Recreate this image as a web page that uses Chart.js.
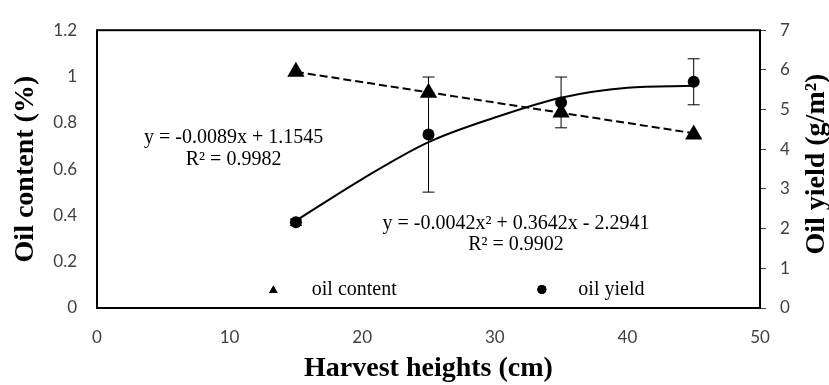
<!DOCTYPE html>
<html lang="en">
<head>
    <meta charset="UTF-8">
    <title>Oil content and oil yield</title>
    <style>
body {
    margin: 0;
    padding: 0;
    background-color: #fff;
}

#wrap {
    width: 829px;
    height: 385px;
}
    </style>
    <script src="https://cdn.jsdelivr.net/npm/chart.js"></script>
</head>
<body>
    <div id="wrap">
        <canvas id="oilChart" width="829" height="385"></canvas>
    </div>

    <script>
// Harvest heights (cm) and measured values
const heights = [15, 25, 35, 45];
const oilContent = [1.02, 0.93, 0.845, 0.75];
const oilYield = [2.16, 4.37, 5.18, 5.70];
const oilYieldErr = [0.08, 1.45, 0.64, 0.58];

// trendlines
const contentFitX = [15, 45];
const contentFit = [1.02, 0.755];
const yieldFitX = [15, 20, 25, 30, 35, 40, 45];
const yieldFit = [2.2, 3.25, 4.18, 4.8, 5.3, 5.55, 5.6];

// tick labels
const xTicks = ['0', '10', '20', '30', '40', '50'];
const leftTicks = ['0', '0.2', '0.4', '0.6', '0.8', '1', '1.2'];
const rightTicks = ['0', '1', '2', '3', '4', '5', '6', '7'];

// equation labels
const eqLinear = ['y = -0.0089x + 1.1545', 'R\u00b2 = 0.9982'];
const eqPoly = ['y = -0.0042x\u00b2 + 0.3642x - 2.2941', 'R\u00b2 = 0.9902'];

const serif = '"Liberation Serif", "Times New Roman", serif';
const tickFont = { family: 'Lato, "Noto Sans", sans-serif', size: 17 };
const titleFont = { family: serif, size: 28, weight: 'bold', lineHeight: 1 };

function toPoints(xs, ys) {
    return xs.map((x, i) => ({ x: x, y: ys[i] }));
}

// frame, error bars, equations, legend, right title
const extras = {
    id: 'extras',
    afterDatasetsDraw(chart) {
        const ctx = chart.ctx;
        const a = chart.chartArea;
        const xs = chart.scales.x;
        const yl = chart.scales.y;
        const yr = chart.scales.y1;

        ctx.save();
        // plot frame
        ctx.strokeStyle = '#000';
        ctx.lineWidth = 2;
        ctx.strokeRect(a.left, a.top, a.right - a.left, a.bottom - a.top);

        // error bars on oil yield
        ctx.lineWidth = 1;
        heights.forEach((h, i) => {
            const px = xs.getPixelForValue(h);
            const t = yr.getPixelForValue(oilYield[i] + oilYieldErr[i]);
            const b = yr.getPixelForValue(oilYield[i] - oilYieldErr[i]);
            ctx.beginPath();
            ctx.moveTo(px, t); ctx.lineTo(px, b);
            ctx.moveTo(px - 6, t); ctx.lineTo(px + 6, t);
            ctx.moveTo(px - 6, b); ctx.lineTo(px + 6, b);
            ctx.stroke();
        });

        // equations
        ctx.fillStyle = '#000';
        ctx.font = '20px ' + serif;
        ctx.textAlign = 'center';
        ctx.textBaseline = 'middle';
        ctx.fillText(eqLinear[0], xs.getPixelForValue(10.3), yl.getPixelForValue(0.737));
        ctx.fillText(eqLinear[1], xs.getPixelForValue(10.3), yl.getPixelForValue(0.64));
        ctx.fillText(eqPoly[0], xs.getPixelForValue(31.6), yl.getPixelForValue(0.362));
        ctx.fillText(eqPoly[1], xs.getPixelForValue(31.6), yl.getPixelForValue(0.274));

        // legend inside the plot
        const ly = yl.getPixelForValue(0.08);
        const ds = chart.data.datasets;
        Chart.helpers.drawPoint(ctx, { pointStyle: 'triangle', radius: 5, borderWidth: 0 },
            xs.getPixelForValue(13.3), ly + 1);
        ctx.fill();
        Chart.helpers.drawPoint(ctx, { pointStyle: 'circle', radius: 4.5, borderWidth: 0 },
            xs.getPixelForValue(33.55), ly);
        ctx.fill();
        ctx.textAlign = 'left';
        ctx.fillText(ds[0].label, xs.getPixelForValue(16.2), ly);
        ctx.fillText(ds[1].label, xs.getPixelForValue(36.3), ly);

        // right axis title, reading bottom to top
        ctx.font = 'bold 28px ' + serif;
        ctx.textAlign = 'center';
        ctx.translate(817, (a.top + a.bottom) / 2 - 5);
        ctx.rotate(-Math.PI / 2);
        ctx.fillText('Oil yield (g/m\u00b2)', 0, 0);
        ctx.restore();
    }
};

new Chart(document.getElementById('oilChart'), {
    type: 'line',
    data: {
        datasets: [
            {
                label: 'oil content',
                data: toPoints(heights, oilContent),
                yAxisID: 'y',
                showLine: false,
                pointStyle: 'triangle',
                pointRadius: 10,
                backgroundColor: '#000',
                borderColor: '#000',
                borderWidth: 0
            },
            {
                label: 'oil yield',
                data: toPoints(heights, oilYield),
                yAxisID: 'y1',
                showLine: false,
                pointStyle: 'circle',
                pointRadius: 6,
                backgroundColor: '#000',
                borderColor: '#000',
                borderWidth: 0
            },
            {
                label: 'content fit',
                data: toPoints(contentFitX, contentFit),
                yAxisID: 'y',
                borderColor: '#000',
                borderWidth: 2,
                borderDash: [8, 4],
                pointRadius: 0
            },
            {
                label: 'yield fit',
                data: toPoints(yieldFitX, yieldFit),
                yAxisID: 'y1',
                borderColor: '#000',
                borderWidth: 2,
                cubicInterpolationMode: 'monotone',
                pointRadius: 0
            }
        ]
    },
    options: {
        responsive: false,
        animation: false,
        layout: { padding: { top: 23, left: 0, right: 0, bottom: 0 } },
        plugins: {
            legend: { display: false },
            tooltip: { enabled: false }
        },
        scales: {
            x: {
                type: 'linear',
                min: 0,
                max: 50,
                ticks: {
                    stepSize: 10,
                    padding: 19,
                    color: '#404040',
                    font: tickFont,
                    callback: (v, i) => xTicks[i]
                },
                grid: { display: false, drawTicks: false },
                border: { display: false },
                title: {
                    display: true,
                    text: 'Harvest heights (cm)',
                    color: '#000',
                    font: titleFont,
                    padding: { top: 0, bottom: 2 }
                },
                afterFit: s => { s.height = 77; }
            },
            y: {
                position: 'left',
                min: 0,
                max: 1.2,
                ticks: {
                    stepSize: 0.2,
                    padding: 20,
                    color: '#404040',
                    font: tickFont,
                    callback: (v, i) => leftTicks[i]
                },
                grid: { display: false, drawTicks: false },
                border: { display: false },
                title: {
                    display: true,
                    text: 'Oil content (%)',
                    color: '#000',
                    font: titleFont,
                    padding: { top: 12, bottom: 0 }
                },
                afterFit: s => { s.width = 97; }
            },
            y1: {
                position: 'right',
                min: 0,
                max: 7,
                ticks: {
                    stepSize: 1,
                    padding: 14,
                    color: '#404040',
                    font: tickFont,
                    callback: (v, i) => rightTicks[i]
                },
                grid: {
                    drawOnChartArea: false,
                    drawTicks: true,
                    tickLength: 6,
                    color: '#404040'
                },
                border: { display: false },
                afterFit: s => { s.width = 69; }
            }
        }
    },
    plugins: [extras]
});
    </script>
</body>
</html>
